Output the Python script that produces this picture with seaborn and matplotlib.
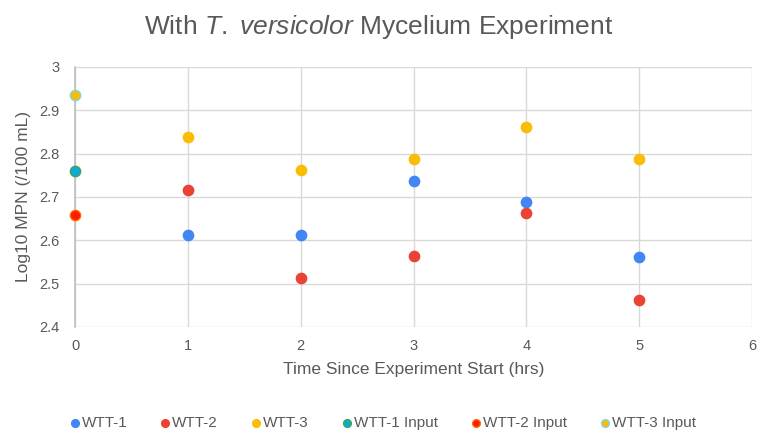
import matplotlib
matplotlib.use("Agg")
import matplotlib.pyplot as plt
import seaborn as sns
import pandas as pd

# ---- data ----
hours = [1, 2, 3, 4, 5]
wtt1 = [2.613, 2.613, 2.738, 2.689, 2.562]
wtt2 = [2.715, 2.513, 2.564, 2.663, 2.462]
wtt3 = [2.838, 2.762, 2.787, 2.861, 2.787]
input_hour = [0]
wtt1_input = [2.761]
wtt2_input = [2.658]
wtt3_input = [2.936]

series_names = ["WTT-1", "WTT-2", "WTT-3", "WTT-1 Input", "WTT-2 Input", "WTT-3 Input"]
fills = ["#4285F4", "#EA4335", "#FBBC04", "#12A7D6", "#FF1A00", "#FBBC04"]
edges = ["#4285F4", "#EA4335", "#FBBC04", "#34A853", "#FF6D01", "#7FD3E0"]

rows = []
for name, xs, ys in [("WTT-1", hours, wtt1), ("WTT-2", hours, wtt2), ("WTT-3", hours, wtt3),
                     ("WTT-1 Input", input_hour, wtt1_input),
                     ("WTT-2 Input", input_hour, wtt2_input),
                     ("WTT-3 Input", input_hour, wtt3_input)]:
    for x, y in zip(xs, ys):
        rows.append({"series": name, "hours": x, "log_mpn": y})
df = pd.DataFrame(rows)

sns.set_theme(style="white")
plt.rcParams['font.family'] = ['Liberation Sans', 'DejaVu Sans']
plt.rcParams['mathtext.fontset'] = 'custom'
plt.rcParams['mathtext.rm'] = 'Liberation Sans'
plt.rcParams['mathtext.it'] = 'Liberation Sans:italic'

text_col = "#595959"
fig = plt.figure(figsize=(7.57, 4.33), dpi=100)
ax = fig.add_axes([75/757, 1 - 327/433, (752-75)/757, (327-67)/433])

for name, fc, ec in zip(series_names, fills, edges):
    sub = df[df["series"] == name]
    sns.scatterplot(data=sub, x="hours", y="log_mpn", ax=ax, color=fc,
                    edgecolor=ec, linewidth=1.0, s=55, label=name, zorder=3,
                    clip_on=False)

ax.set_xlim(0, 6)
ax.set_ylim(2.4, 3.0)
ax.set_xticks(range(0, 7))
ax.set_yticks([2.4, 2.5, 2.6, 2.7, 2.8, 2.9, 3.0])
ax.set_yticklabels(["2.4", "2.5", "2.6", "2.7", "2.8", "2.9", "3"])
ax.grid(True, color="#D9D9D9", linewidth=1.0, zorder=0)
for s in ["top", "right", "bottom"]:
    ax.spines[s].set_visible(False)
ax.spines["left"].set_color("#BFBFBF")
ax.spines["left"].set_linewidth(1.2)
ax.tick_params(axis="y", length=0, labelsize=10.5, colors=text_col, pad=11)
ax.tick_params(axis="x", length=0, labelsize=10.5, colors=text_col, pad=9)
ax.set_xlabel("Time Since Experiment Start (hrs)", fontsize=12.5, color=text_col, labelpad=6)
ax.set_ylabel("Log10 MPN (/100 mL)", fontsize=12.5, color=text_col, labelpad=6)

fig.text(0.5, 1 - 27/433, r"With $\mathit{T.}$ $\mathit{versicolor}$ Mycelium Experiment",
         ha="center", va="center", fontsize=19, color=text_col)

ax.legend(loc="center", bbox_to_anchor=(0.5 - 0.045, -(423-327)/260), ncol=6, frameon=False,
          fontsize=11, handlelength=0.6, handletextpad=0.15, columnspacing=2.2,
          markerscale=0.75, labelcolor=text_col)

fig.savefig("out.png", dpi=100)
